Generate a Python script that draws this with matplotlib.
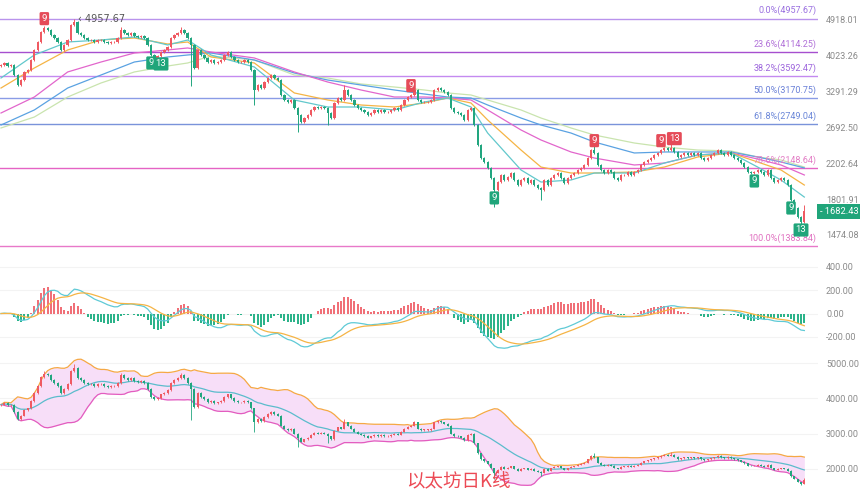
import numpy as np
import pandas as pd
import matplotlib
matplotlib.use("Agg")
import matplotlib.pyplot as plt
import matplotlib.transforms as mtransforms
from matplotlib.ticker import FixedLocator, FixedFormatter, NullLocator

# ---------------- data ----------------
first_open = 3800
closes = [
    3822, 3865, 3800, 3822, 3613, 3416, 3513, 3675, 3716, 3930,
    4157, 4347, 4598, 4702, 4650, 4521, 4446, 4347, 4157, 4275,
    4396, 4782, 4863, 4572, 4521, 4446, 4396, 4396, 4347, 4396,
    4396, 4347, 4323, 4347, 4347, 4446, 4650, 4572, 4521, 4572,
    4496, 4471, 4496, 4446, 4275, 4042, 3975, 4019, 4110, 4157,
    4227, 4446, 4521, 4572, 4650, 4572, 4446, 4275, 3758, 4157,
    4042, 3975, 3886, 3930, 3865, 3886, 3930, 4042, 4110, 4000,
    3930, 3886, 3886, 3930, 3886, 3716, 3322, 3416, 3359, 3474,
    3553, 3613, 3553, 3513, 3230, 3141, 3106, 3141, 3003, 2888,
    2776, 2839, 2888, 2970, 3020, 3003, 3020, 3003, 2920, 2839,
    3088, 3176, 3141, 3322, 3230, 3141, 3054, 3003, 2970, 2936,
    2888, 2920, 2970, 2936, 2970, 2936, 2936, 2970, 3003, 2970,
    3054, 3141, 3194, 3230, 3322, 3141, 3106, 3106, 3106, 3141,
    3322, 3359, 3322, 3285, 3230, 3003, 2936, 2920, 2888, 2808,
    2970, 3003, 2730, 2441, 2270, 2219, 2146, 2028, 1897, 1983,
    2063, 2006, 2040, 2086, 2006, 1950, 2006, 2028, 1972, 2006,
    1950, 1918, 1897, 2006, 1950, 2028, 2063, 2086, 2028, 1972,
    2028, 2063, 2086, 2122, 2146, 2182, 2270, 2373, 2334, 2182,
    2122, 2086, 2122, 2098, 2028, 2006, 2063, 2063, 2098, 2063,
    2098, 2122, 2182, 2219, 2244, 2270, 2308, 2334, 2373, 2400,
    2373, 2400, 2347, 2282, 2308, 2334, 2308, 2334, 2308, 2334,
    2270, 2244, 2270, 2308, 2334, 2373, 2334, 2308, 2347, 2308,
    2270, 2244, 2206, 2157, 2098, 2086, 2098, 2122, 2098, 2063,
    2122, 2028, 1983, 2006, 2028, 2006, 1950, 1793, 1714, 1629,
    1585, 1682.43,
]
# notable wick extremes (candle index -> price)
high_marks = {13: 4760, 21: 4800, 22: 4957.67, 36: 4729, 54: 4729, 103: 3416,
              124: 3359, 178: 2441, 201: 2468, 241: 1747}
low_marks = {57: 3397, 76: 3054, 89: 2625, 98: 2730, 148: 1724, 162: 1793,
             240: 1533}

# moving averages read at sample candles
ma_idx = [0, 10, 20, 30, 40, 50, 56, 63, 76, 88, 98, 108, 118, 127, 134, 141,
          146, 156, 162, 171, 178, 190, 199, 209, 219, 227, 234, 241]
ma_fast = [3553, 4042, 4347, 4396, 4471, 4275, 4396, 4042, 3779, 3141, 3020, 3020,
           2970, 3106, 3176, 3020, 2610, 2122, 1983, 2006, 2086, 2086, 2206, 2308,
           2334, 2157, 2006, 1823]
ma_orange = [3359, 3758, 4157, 4396, 4446, 4299, 4347, 3997, 3865, 3267, 3141, 3054,
             3020, 3088, 3176, 3088, 2808, 2373, 2157, 2086, 2086, 2098, 2157, 2282,
             2334, 2219, 2122, 1950]
ma_magenta = [2920, 3194, 3675, 3886, 4087, 4157, 4204, 4110, 3975, 3675, 3474, 3322,
              3194, 3194, 3176, 3141, 2970, 2655, 2510, 2347, 2269, 2182, 2206, 2308,
              2334, 2256, 2182, 2063]
ma_blue = [2730, 2970, 3359, 3613, 3886, 3997, 4042, 4087, 3930, 3654, 3513, 3416,
           3322, 3248, 3194, 3176, 3054, 2839, 2730, 2610, 2482, 2334, 2347, 2347,
           2347, 2282, 2219, 2146]
ma_green = [2685, 2855, 3194, 3455, 3675, 3800, 3865, 4019, 3930, 3613, 3553, 3436,
            3378, 3322, 3267, 3230, 3141, 2970, 2839, 2685, 2581, 2468, 2413, 2373,
            2360, 2282, 2244, 2157]

fib_names = ["0.0%", "23.6%", "38.2%", "50.0%", "61.8%", "78.6%", "100.0%"]
fib_prices = [4957.67, 4114.25, 3592.47, 3170.75, 2749.04, 2148.64, 1383.84]
fib_line_colors = ["#b993ec", "#a64fcf", "#c48af0", "#8a9ce6", "#7a93da", "#e563c4", "#e879c9"]
fib_text_colors = ["#9a70e0", "#b070d8", "#9c64dc", "#6a80d8", "#6a86d8", "#e27cc4", "#e070c0"]

price_ticks = [4918.01, 4023.26, 3291.29, 2692.50, 2202.64, 1801.91, 1474.08]
macd_ticks = [400, 200, 0, -200]
boll_ticks = [5000, 4000, 3000, 2000]

td_idx = [13, 45, 48, 123, 148, 178, 198, 202, 226, 237, 240]
td_text = ["9", "9", "13", "9", "9", "9", "9", "13", "9", "9", "13"]
td_side = ["up", "down", "down", "up", "down", "up", "up", "up", "down", "down", "down"]

last_price = 1682.43
title = "以太坊日K线"

# ---------------- derived series ----------------
c = np.array(closes, dtype=float)
n = len(c)
o = np.concatenate([[first_open], c[:-1]])
wick_pct = 0.006
h = np.maximum(o, c) * (1 + wick_pct)
l = np.minimum(o, c) * (1 - wick_pct)
for k, v in high_marks.items():
    h[k] = max(h[k], v)
for k, v in low_marks.items():
    l[k] = min(l[k], v)
x = np.arange(n)
up = c >= o

s = pd.Series(c)
dif = s.ewm(span=12, adjust=False).mean() - s.ewm(span=26, adjust=False).mean()
dea = dif.ewm(span=9, adjust=False).mean()
hist = 2 * (dif - dea)
mid = s.rolling(20, min_periods=1).mean()
sd = s.rolling(20, min_periods=1).std(ddof=0).fillna(0)
upper = mid + 2 * sd
lower = mid - 2 * sd

UP = "#ef5a62"
DN = "#22a67f"

# ---------------- figure ----------------
fig = plt.figure(figsize=(8.6, 4.98), dpi=100)
W = 818 / 860
ax = fig.add_axes([0, 243 / 498, W, 255 / 498])
axm = fig.add_axes([0, 148 / 498, W, 95 / 498])
axb = fig.add_axes([0, 0, W, 148 / 498])

xlim = (-0.3, 245.1)


def style(a, ticks, labels):
    for sp in a.spines.values():
        sp.set_visible(False)
    a.set_xlim(*xlim)
    a.set_xticks([])
    a.yaxis.tick_right()
    a.yaxis.set_major_locator(FixedLocator(ticks))
    a.yaxis.set_major_formatter(FixedFormatter(labels))
    a.yaxis.set_minor_locator(NullLocator())
    a.tick_params(axis="y", length=0, pad=5.8, labelsize=6.5, labelcolor="#8a8a8a")
    for t in a.get_yticklabels():
        t.set_fontfamily(["Roboto", "DejaVu Sans"])


# ---- main panel ----
ax.set_yscale("log")
ax.set_ylim(1317.5, 5501)
style(ax, price_ticks, [f"{v:.2f}" for v in price_ticks])

for p, lc in zip(fib_prices, fib_line_colors):
    ax.axhline(p, color=lc, lw=1.0, zorder=1)
blend = mtransforms.blended_transform_factory(ax.transAxes, ax.transData)
for name, p, tc in zip(fib_names, fib_prices, fib_text_colors):
    ax.annotate(f"{name}({p:.2f})", xy=(1.0, p), xycoords=blend, xytext=(-1, 2.2),
                textcoords="offset points", ha="right", va="bottom", fontsize=6.5,
                color=tc, family=["Roboto", "DejaVu Sans"], zorder=6)

for vals, col in [(ma_green, "#c9e4ae"), (ma_blue, "#5aa2e2"), (ma_magenta, "#e266cc"),
                  (ma_orange, "#f5b445"), (ma_fast, "#62c8cc")]:
    ax.plot(ma_idx, vals, color=col, lw=0.9, zorder=3)

cols = np.where(up, UP, DN)
ax.vlines(x, l, h, colors=cols, lw=0.7, zorder=4)
body_lo = np.minimum(o, c)
body_hi = np.maximum(o, c)
body_hi = np.maximum(body_hi, body_lo * 1.0015)
ax.bar(x, body_hi - body_lo, bottom=body_lo, width=0.7, color=cols, zorder=4, linewidth=0)

# max label
imax = int(np.argmax(h))
ax.annotate(f"\u2039 {h[imax]:.2f}", xy=(imax, h[imax]), xytext=(2.5, 0), textcoords="offset points",
            ha="left", va="center", fontsize=7, color="#555555",
            family=["DejaVu Sans"], zorder=6)

# TD sequential labels
for i, t, sd_ in zip(td_idx, td_text, td_side):
    if sd_ == "up":
        ax.annotate(t, xy=(i, max(o[i], c[i])), xytext=(0, 3.5), textcoords="offset points",
                    ha="center", va="bottom", fontsize=6.8, color="white",
                    family=["Roboto", "DejaVu Sans"], zorder=7,
                    bbox=dict(boxstyle="round,pad=0.22,rounding_size=0.15", fc="#e54b58", ec="none"))
    else:
        ax.annotate(t, xy=(i, min(o[i], c[i])), xytext=(0, -2.5), textcoords="offset points",
                    ha="center", va="top", fontsize=6.8, color="white",
                    family=["Roboto", "DejaVu Sans"], zorder=7,
                    bbox=dict(boxstyle="round,pad=0.22,rounding_size=0.15", fc="#1fa57a", ec="none"))

# current price tag
ytag = ax.transData.transform((0, last_price))[1]
fig.text(820 / 860, ytag / (4.98 * 100), f"- {last_price:.2f}", ha="left", va="center",
         fontsize=6.7, color="white", family=["Roboto", "DejaVu Sans"],
         bbox=dict(boxstyle="square,pad=0.3", fc="#20a57a", ec="none"))

# ---- MACD panel ----
axm.set_ylim(-313, 502)
style(axm, macd_ticks, [f"{v:.2f}" for v in macd_ticks])
for v in macd_ticks:
    axm.axhline(v, color="#f3f3f3", lw=0.8, zorder=0)
hc = np.where(hist >= 0, "#f07078", "#2cb38a")
axm.bar(x, hist, width=0.55, color=hc, linewidth=0, zorder=2)
axm.plot(x, dif, color="#5fcad6", lw=0.9, zorder=3)
axm.plot(x, dea, color="#f5b445", lw=0.9, zorder=3)

# ---- BOLL panel ----
axb.set_ylim(1179, 5368)
style(axb, boll_ticks, [f"{v:.2f}" for v in boll_ticks])
for v in boll_ticks:
    axb.axhline(v, color="#f3f3f3", lw=0.8, zorder=0)
axb.fill_between(x, lower, upper, color="#f7def8", lw=0, zorder=1)
axb.plot(x, upper, color="#f5a845", lw=0.9, zorder=2)
axb.plot(x, lower, color="#e35cbf", lw=0.9, zorder=2)
axb.plot(x, mid, color="#5bbccc", lw=0.9, zorder=2)
axb.vlines(x, l, h, colors=cols, lw=0.6, zorder=3)
axb.bar(x, np.maximum(body_hi - body_lo, 12), bottom=body_lo, width=0.6, color=cols,
        zorder=3, linewidth=0)

fig.text(458 / 860, 1 - 482 / 498, title, ha="center", va="center", fontsize=13.3,
         color="#ec4a55", family=["Noto Sans CJK SC", "DejaVu Sans"])

fig.savefig("out.png", dpi=100, facecolor="white")
